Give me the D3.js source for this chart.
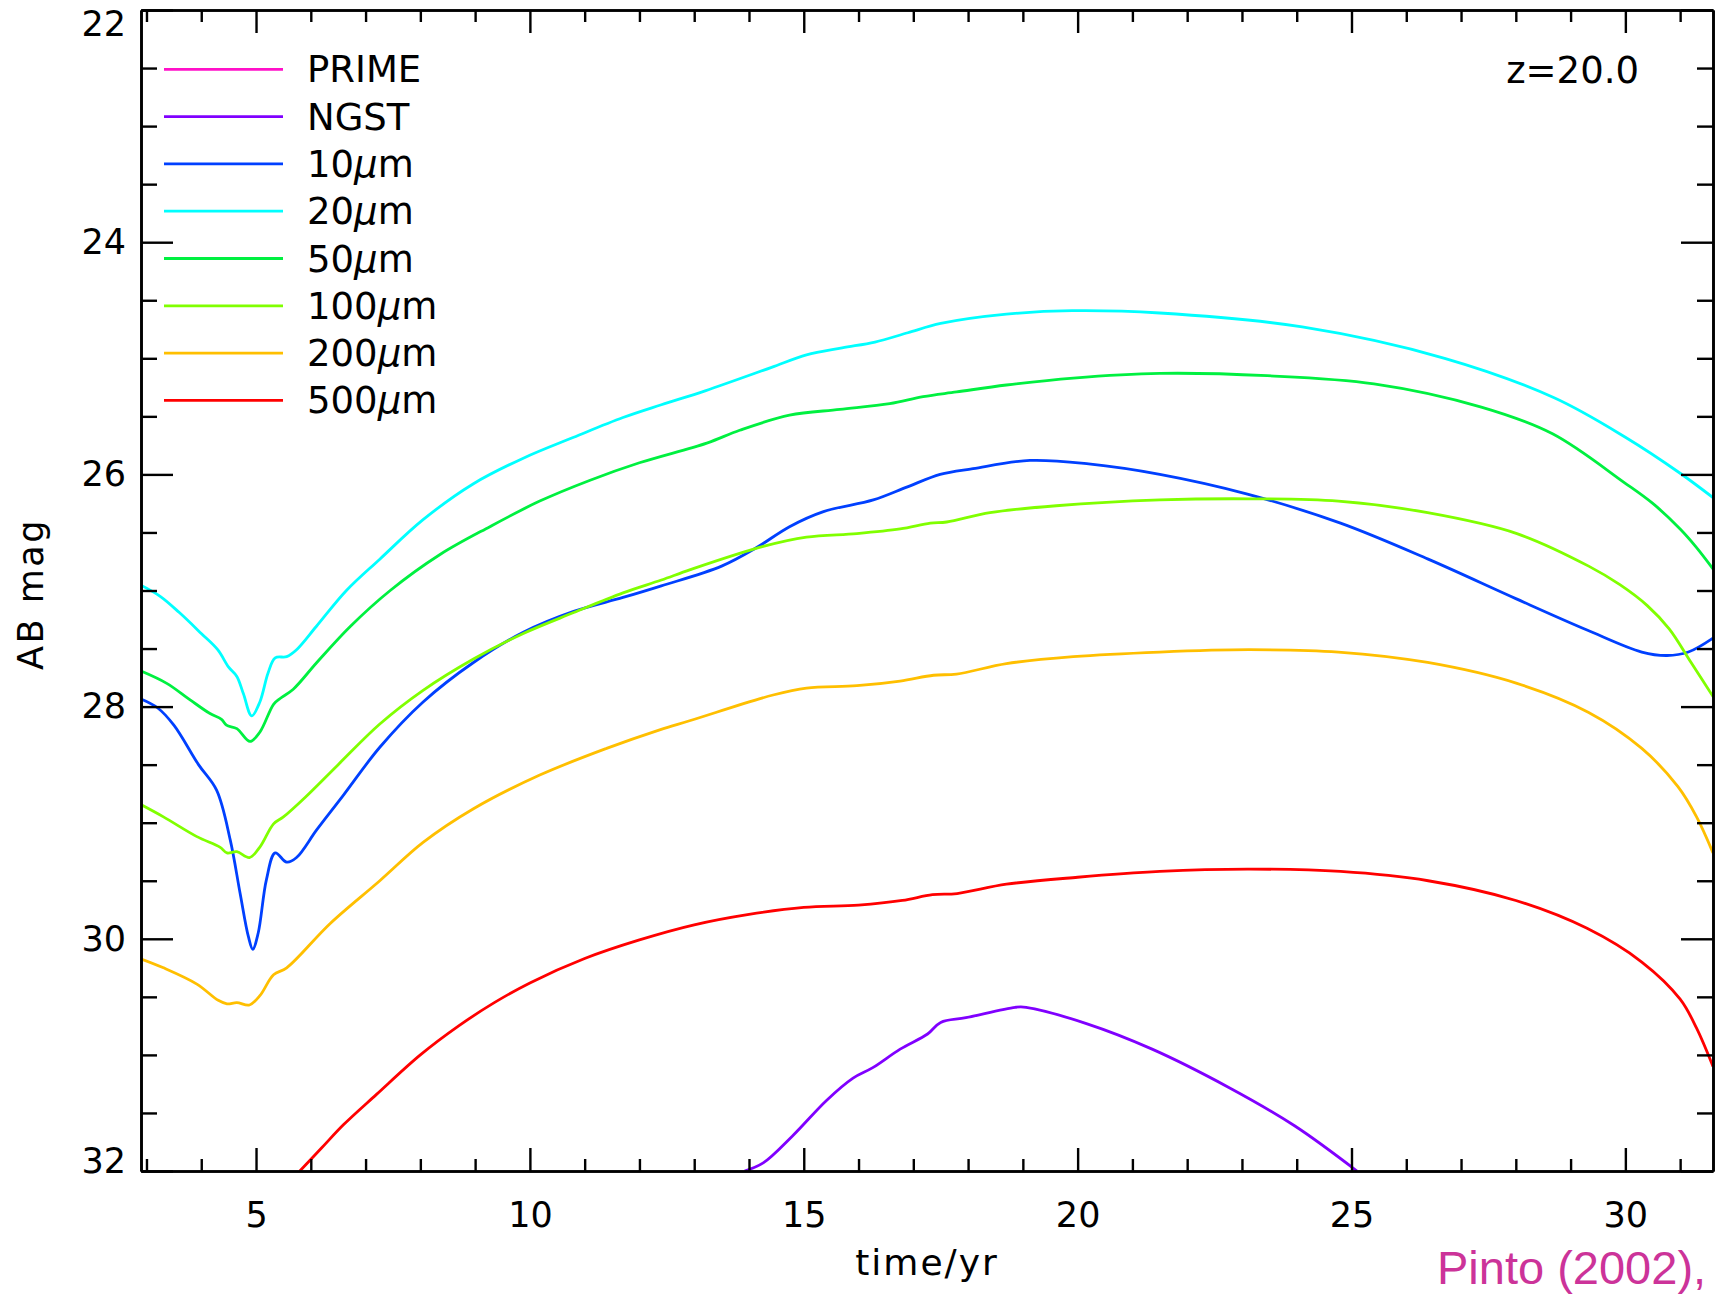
<!DOCTYPE html>
<html><head><meta charset="utf-8">
<script src="https://cdn.jsdelivr.net/npm/d3@7"></script>
<style>
body{margin:0;background:#fff;}
svg{display:block;}
text{font-family:"DejaVu Sans",sans-serif;fill:#000;}
</style></head><body>
<svg id="chart" width="1722" height="1298"></svg>
<script>
// ---------- data (time/yr, AB mag) ----------
const seriesLabels = ["PRIME", "NGST", "10", "20", "50", "100", "200", "500"];
const seriesUnits  = ["", "", "μ", "μ", "μ", "μ", "μ", "μ"];
const seriesColors = ["#ff10c8", "#8000ff", "#0040ff", "#00ffff", "#00f040", "#80ff00", "#ffbf00", "#ff0000"];

const magPRIME = [];  // fainter than 32 mag: not on the plot
const magNGST = [[13.92,32.0],[14.26,31.93],[14.79,31.70],[15.42,31.39],[15.9,31.2],[16.26,31.11],[16.76,30.95],[17.26,30.82],[17.5,30.72],[17.96,30.68],[18.86,30.59],[19.06,30.59],[20.16,30.73],[21.36,30.95],[22.76,31.28],[23.96,31.61],[25.1,32.0]];
const mag10 = [[2.88,27.93],[3.2,28.01],[3.5,28.16],[3.95,28.5],[4.28,28.72],[4.53,29.15],[4.71,29.61],[4.86,29.98],[4.94,30.09],[5.04,29.95],[5.19,29.49],[5.35,29.26],[5.56,29.34],[5.74,29.30],[6.11,29.06],[6.6,28.76],[7.26,28.35],[8.05,27.96],[8.97,27.62],[9.88,27.36],[10.8,27.18],[11.7,27.06],[12.4,26.96],[13.5,26.79],[14.14,26.63],[14.74,26.45],[15.36,26.32],[16.27,26.22],[16.88,26.11],[17.49,26.0],[18.09,25.95],[19.13,25.88],[20.2,25.91],[21.5,26.0],[23.1,26.17],[24.8,26.42],[26.4,26.73],[28.0,27.07],[29.3,27.34],[30.3,27.53],[30.76,27.56],[31.15,27.53],[31.6,27.41]];
const mag20 = [[2.88,26.95],[3.25,27.05],[3.6,27.19],[4.0,27.37],[4.3,27.51],[4.5,27.66],[4.65,27.74],[4.77,27.89],[4.92,28.08],[5.07,27.96],[5.22,27.71],[5.35,27.58],[5.56,27.57],[5.74,27.51],[6.1,27.31],[6.65,27.0],[7.26,26.73],[8.05,26.39],[8.97,26.08],[9.88,25.86],[10.8,25.68],[11.7,25.51],[12.4,25.40],[13.2,25.28],[14.4,25.08],[15.05,24.97],[15.7,24.91],[16.3,24.86],[16.9,24.78],[17.5,24.70],[18.7,24.62],[19.9,24.59],[21.5,24.61],[24.1,24.73],[26.7,25.0],[28.7,25.34],[30.0,25.68],[31.0,25.99],[31.6,26.2]];
const mag50 = [[2.88,27.69],[3.37,27.8],[3.79,27.94],[4.16,28.06],[4.37,28.11],[4.46,28.16],[4.65,28.19],[4.89,28.3],[5.07,28.22],[5.32,27.98],[5.44,27.93],[5.68,27.85],[6.11,27.62],[6.72,27.31],[7.45,27.0],[8.36,26.69],[9.27,26.45],[10.18,26.23],[11.1,26.05],[12.0,25.9],[13.23,25.73],[13.83,25.62],[14.74,25.49],[15.66,25.44],[16.57,25.39],[17.18,25.33],[17.79,25.29],[18.7,25.23],[19.92,25.17],[21.5,25.13],[23.46,25.15],[25.41,25.22],[27.37,25.42],[28.67,25.65],[29.98,26.07],[30.5,26.25],[31.0,26.47],[31.3,26.63],[31.61,26.82]];
const mag100 = [[2.88,28.84],[3.31,28.95],[3.92,29.12],[4.34,29.21],[4.47,29.26],[4.65,29.25],[4.88,29.30],[5.07,29.21],[5.32,29.01],[5.5,28.95],[5.9,28.78],[6.5,28.5],[7.26,28.15],[8.05,27.86],[8.97,27.59],[9.88,27.37],[10.8,27.19],[11.7,27.02],[12.4,26.91],[12.93,26.82],[14.26,26.62],[15.05,26.54],[15.97,26.51],[16.76,26.47],[17.31,26.42],[17.61,26.41],[18.4,26.33],[19.61,26.27],[21.5,26.22],[23.13,26.21],[24.76,26.23],[26.39,26.33],[28.02,26.51],[29.33,26.79],[29.9,26.95],[30.4,27.13],[30.8,27.33],[31.2,27.62],[31.61,27.92]];
const mag200 = [[2.88,30.17],[3.31,30.25],[3.92,30.39],[4.31,30.53],[4.47,30.56],[4.65,30.55],[4.88,30.57],[5.07,30.49],[5.32,30.31],[5.56,30.25],[6.35,29.87],[7.26,29.5],[8.05,29.17],[8.97,28.88],[10.18,28.59],[11.4,28.36],[12.37,28.2],[12.93,28.12],[14.44,27.9],[15.05,27.84],[15.97,27.82],[16.76,27.78],[17.37,27.73],[17.79,27.72],[18.7,27.63],[19.92,27.57],[21.5,27.53],[23.13,27.51],[24.76,27.53],[26.39,27.62],[28.02,27.8],[29.33,28.05],[30.3,28.36],[30.96,28.69],[31.3,28.95],[31.6,29.26]];
const mag500 = [[5.8,32.0],[6.2,31.8],[6.6,31.6],[7.2,31.34],[8.0,31.0],[8.7,30.75],[9.35,30.55],[10.0,30.38],[11.0,30.17],[12.0,30.01],[13.0,29.88],[14.0,29.79],[15.0,29.73],[16.0,29.71],[16.8,29.67],[17.35,29.62],[17.8,29.61],[18.7,29.53],[20.0,29.47],[21.5,29.42],[23.1,29.4],[24.8,29.42],[26.4,29.5],[28.0,29.67],[29.3,29.91],[30.3,30.2],[31.0,30.52],[31.3,30.77],[31.6,31.1]];
const seriesData = [magPRIME, magNGST, mag10, mag20, mag50, mag100, mag200, mag500];

const xMajorTicks = [5, 10, 15, 20, 25, 30];
const xMinorTicks = [3,4,6,7,8,9,11,12,13,14,16,17,18,19,21,22,23,24,26,27,28,29,31];
const yMajorTicks = [22, 24, 26, 28, 30, 32];
const yMinorTicks = [22.5,23,23.5,24.5,25,25.5,26.5,27,27.5,28.5,29,29.5,30.5,31,31.5];

// ---------- layout ----------
const svg = d3.select("#chart");
const P = {left:141, right:1713, top:10, bottom:1171};
const x = d3.scaleLinear().domain([2.9, 31.6]).range([P.left, P.right]);
const y = d3.scaleLinear().domain([22, 32]).range([P.top, P.bottom]);

svg.append("defs").append("clipPath").attr("id","plotclip")
  .append("rect").attr("x",P.left).attr("y",P.top)
  .attr("width",P.right-P.left).attr("height",P.bottom-P.top);

// curves
const line = d3.line().x(d=>x(d[0])).y(d=>y(d[1])).curve(d3.curveCatmullRom.alpha(0.5));
const gCurves = svg.append("g").attr("clip-path","url(#plotclip)");
seriesData.forEach((d,i)=>{
  if(!d.length) return;
  gCurves.append("path").datum(d).attr("d",line)
    .attr("fill","none").attr("stroke",seriesColors[i])
    .attr("stroke-width",2.8).attr("stroke-linejoin","round");
});

// axes
function styleAxis(g){
  g.selectAll("path.domain").attr("stroke","#000").attr("stroke-width",2.6);
  g.selectAll(".tick line").attr("stroke","#000").attr("stroke-width",2.4);
  g.selectAll(".tick text").style("font-family","'DejaVu Sans',sans-serif").style("font-size","35px").attr("fill","#000");
}
const gxb = svg.append("g").attr("transform",`translate(0,${P.bottom})`)
  .call(d3.axisBottom(x).tickValues(xMajorTicks).tickSize(-23).tickSizeOuter(0).tickPadding(31).tickFormat(d3.format("d")));
styleAxis(gxb);
const gxbm = svg.append("g").attr("transform",`translate(0,${P.bottom})`)
  .call(d3.axisBottom(x).tickValues(xMinorTicks).tickSize(-12).tickSizeOuter(0).tickFormat(""));
styleAxis(gxbm);
const gxt = svg.append("g").attr("transform",`translate(0,${P.top})`)
  .call(d3.axisTop(x).tickValues(xMajorTicks).tickSize(-23).tickSizeOuter(0).tickFormat(""));
styleAxis(gxt);
const gxtm = svg.append("g").attr("transform",`translate(0,${P.top})`)
  .call(d3.axisTop(x).tickValues(xMinorTicks).tickSize(-12).tickSizeOuter(0).tickFormat(""));
styleAxis(gxtm);

const gyl = svg.append("g").attr("transform",`translate(${P.left},0)`)
  .call(d3.axisLeft(y).tickValues(yMajorTicks).tickSize(-32).tickSizeOuter(0).tickPadding(15).tickFormat(d3.format("d")));
styleAxis(gyl);
// end labels are kept inside the frame, as in the original
gyl.selectAll(".tick text").attr("y", d => d===22 ? 14 : (d===32 ? -10 : 0));
const gylm = svg.append("g").attr("transform",`translate(${P.left},0)`)
  .call(d3.axisLeft(y).tickValues(yMinorTicks).tickSize(-16).tickSizeOuter(0).tickFormat(""));
styleAxis(gylm);
const gyr = svg.append("g").attr("transform",`translate(${P.right},0)`)
  .call(d3.axisRight(y).tickValues(yMajorTicks).tickSize(-32).tickSizeOuter(0).tickFormat(""));
styleAxis(gyr);
const gyrm = svg.append("g").attr("transform",`translate(${P.right},0)`)
  .call(d3.axisRight(y).tickValues(yMinorTicks).tickSize(-16).tickSizeOuter(0).tickFormat(""));
styleAxis(gyrm);

// axis titles
svg.append("text").attr("x",927).attr("y",1275).attr("text-anchor","middle")
  .style("font-size","36px").style("letter-spacing","2px").text("time/yr");
svg.append("text").attr("transform","translate(43,594) rotate(-90)").attr("text-anchor","middle")
  .style("font-size","35px").style("letter-spacing","2.5px").text("AB mag");

// legend
const legY0 = 69.3, legDY = 47.3;
seriesLabels.forEach((lab,i)=>{
  const yy = legY0 + i*legDY;
  svg.append("line").attr("x1",164).attr("x2",283).attr("y1",yy).attr("y2",yy)
    .attr("stroke",seriesColors[i]).attr("stroke-width",2.8);
  const t = svg.append("text").attr("x",307).attr("y",yy+13).style("font-size","37px");
  if(seriesUnits[i]){
    t.append("tspan").text(lab);
    t.append("tspan").style("font-style","italic").text(seriesUnits[i]);
    t.append("tspan").text("m");
  } else t.text(lab);
});

// redshift label
svg.append("text").attr("x",1639).attr("y",83).attr("text-anchor","end")
  .style("font-size","37px").text("z=20.0");

// source note
svg.append("text").attr("x",1437).attr("y",1284)
  .style("font-family","'Liberation Sans',Arial,sans-serif").style("font-size","47px")
  .style("fill","#cc3399").text("Pinto (2002),");
</script>
</body></html>
